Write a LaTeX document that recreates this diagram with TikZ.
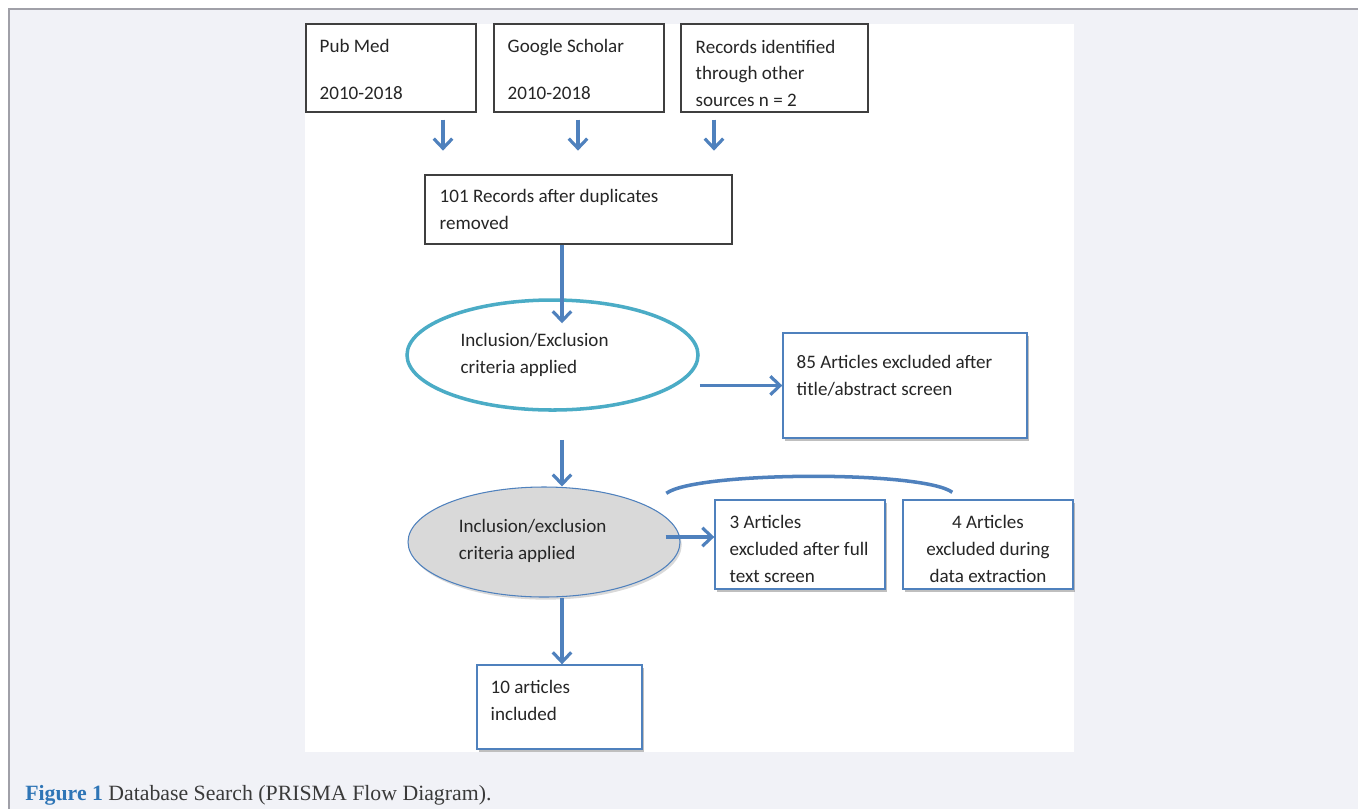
\documentclass[tikz,border=0pt]{standalone}
\usepackage{fontspec}
\setmainfont{Carlito}
\newfontfamily\captionfont{Liberation Serif}
\usetikzlibrary{positioning,calc,shapes.geometric,arrows.meta,shadows}
\newlength{\pxl}\setlength{\pxl}{0.02cm}
\definecolor{pagebg}{HTML}{F1F2F7}
\definecolor{framegray}{HTML}{A0A0A8}
\definecolor{boxgray}{HTML}{3F3F3F}
\definecolor{blueline}{HTML}{4F81BD}
\definecolor{tealline}{HTML}{4BACC6}
\definecolor{ellgray}{HTML}{D9D9D9}
\definecolor{textgray}{HTML}{262626}
\definecolor{capblue}{HTML}{2E75B6}
\definecolor{captext}{HTML}{3A3A3A}
\begin{document}
\begin{tikzpicture}[
		x=0.02cm, y=-0.02cm,
		% Calibri-like text in the boxes, anchored on the baseline of the last line
		txt/.style={font=\fontsize{10.85}{15.3}\selectfont, text=textgray},
		lbl/.style 2 args={anchor=base west, align=left, inner sep=0pt, xshift=#1\pxl, yshift=-#2\pxl, txt},
		srcbox/.style={draw=boxgray, line width=0.7pt, fill=white, inner sep=0pt},
		bluebox/.style={draw=blueline, line width=0.8pt, fill=white, inner sep=0pt,
			drop shadow={shadow xshift=1pt, shadow yshift=-1.5pt, fill=black, opacity=0.25}},
		arr/.style={draw=blueline, line width=1.8pt, -{Straight Barb[length=5.5pt,width=10.5pt]}}
		]
		\useasboundingbox (0,0) rectangle (1358,809);
		% page and panel
		\fill[pagebg] (9,9) rectangle (1358,809);
		\draw[framegray, line width=0.6pt] (9,809) -- (9,9) -- (1358,9);
		\fill[white] (305,24) rectangle (1074,752);
		\coordinate (spine) at (562,0);

		% sources
		\node[srcbox, minimum width=170\pxl, minimum height=88\pxl,
			label={[lbl={14}{76.4}]north west:Pub Med\\[20\pxl]2010-2018}] (pub) at (391,68) {};
		\node[srcbox, minimum width=170\pxl, minimum height=88\pxl,
			label={[lbl={14}{76.4}]north west:Google Scholar\\[20\pxl]2010-2018}] (gs) at (579,68) {};
		\node[srcbox, minimum width=187\pxl, minimum height=88\pxl,
			label={[lbl={15}{83.4}]north west:Records identified\\through other\\sources n = 2}] (oth) at (774.5,68) {};
		\draw[arr] ($(pub.south)+(52,7)$) -- ++(0,31);
		\draw[arr] ($(gs.south)+(-1,7)$) -- ++(0,31);
		\draw[arr] ($(oth.south)+(-60.5,7)$) -- ++(0,31);

		% screening
		\node[srcbox, minimum width=307\pxl, minimum height=69\pxl,
			label={[lbl={15}{55.4}]north west:101 Records after duplicates\\removed}] (rec) at (578.5,209.5) {};
		\node[ellipse, draw=tealline, line width=2pt, fill=white, minimum width=291\pxl, minimum height=110\pxl, inner sep=0pt,
			label={[lbl={55}{18.4}]west:Inclusion/Exclusion\\criteria applied}] (ell1) at (552.5,355) {};
		\draw[arr] (rec.south -| spine) -- ($(ell1.north -| spine)+(0,25)$);
		\node[bluebox, minimum width=244\pxl, minimum height=105\pxl,
			label={[lbl={14}{63.4}]north west:85 Articles excluded after\\title/abstract screen}] (ex1) at (905,385.5) {};
		\draw[arr] ($(ell1.east)+(0,30.5)$) coordinate (a1) -- (a1 -| ex1.west);

		% eligibility
		\node[ellipse, draw=blueline, line width=0.6pt, fill=ellgray, minimum width=272\pxl, minimum height=110\pxl, inner sep=0pt,
			drop shadow={shadow xshift=1pt, shadow yshift=-1.5pt, fill=black, opacity=0.15},
			label={[lbl={51}{17.4}]west:Inclusion/exclusion\\criteria applied}] (ell2) at (544,542) {};
		\draw[arr] ($(ell1.south -| spine)+(0,28)$) -- (ell2.north -| spine);
		\node[bluebox, minimum width=170\pxl, minimum height=89\pxl,
			label={[lbl={15}{83.4}]north west:3 Articles\\excluded after full\\text screen}] (ex2) at (800,544.5) {};
		\node[bluebox, minimum width=170\pxl, minimum height=89\pxl,
			label={[lbl={0}{83.4}, anchor=base, align=center]north:4 Articles\\excluded during\\data extraction}] (ex3) at (988,544.5) {};
		\draw[arr] ($(ell2.east)+(-15,-5)$) coordinate (a2) -- (a2 -| ex2.west);
		\draw[blueline, line width=2pt] ($(ex2.north west)+(-48,-6)$) .. controls +(30,-22) and +(-30,-22) .. ($(ex3.north west)+(50,-7)$);

		% included
		\node[bluebox, minimum width=165\pxl, minimum height=84\pxl,
			label={[lbl={14}{56.4}]north west:10 articles\\included}] (inc) at (559.5,707) {};
		\draw[arr] (ell2.south -| spine) -- (inc.north -| spine);

		% caption
		\node[anchor=base west, inner sep=0pt, text=captext, font=\captionfont\fontsize{12.4}{14}\selectfont] (cap) at (25,800)
			{\textcolor{capblue}{\textbf{Figure 1}} Database Search (PRISMA Flow Diagram).};
	\end{tikzpicture}
\end{document}
